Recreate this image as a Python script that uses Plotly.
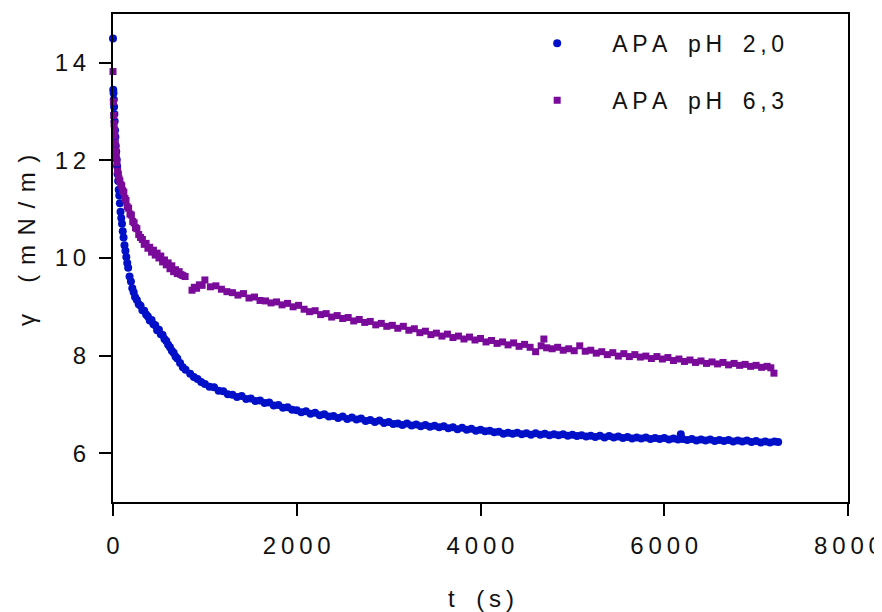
import plotly.graph_objects as go

# ---- data: APA pH 2,0 (blue circles) ----
t_ph20 = [0, 3, 6, 9, 12, 15, 18, 22, 26, 30, 35, 40, 45, 50, 56, 62, 68, 75, 82, 90,
          98, 106, 115, 125, 135, 145, 155, 165, 180, 195, 210, 225, 240, 260, 280, 300,
          320, 340, 360, 380, 400, 420, 440, 460, 480, 500, 520, 540, 560, 580, 600, 620,
          640, 660, 680, 700, 730, 760, 790, 840, 880, 920, 960,
          1000, 1050, 1100, 1150, 1200, 1250, 1300, 1350, 1400, 1450, 1500, 1550, 1600,
          1650, 1700, 1750, 1800, 1850, 1900, 1950, 2000, 2050, 2100, 2150, 2200, 2250,
          2300, 2350, 2400, 2450, 2500, 2550, 2600, 2650, 2700, 2750, 2800, 2850, 2900,
          2950, 3000, 3050, 3100, 3150, 3200, 3250, 3300, 3350, 3400, 3450, 3500, 3550,
          3600, 3650, 3700, 3750, 3800, 3850, 3900, 3950, 4000, 4050, 4100, 4150, 4200,
          4250, 4300, 4350, 4400, 4450, 4500, 4550, 4600, 4650, 4700, 4750, 4800, 4850,
          4900, 4950, 5000, 5050, 5100, 5150, 5200, 5250, 5300, 5350, 5400, 5450, 5500,
          5550, 5600, 5650, 5700, 5750, 5800, 5850, 5900, 5950, 6000, 6050, 6100, 6150,
          6180, 6200, 6250, 6300, 6350, 6400, 6450, 6500, 6550, 6600, 6650, 6700, 6750,
          6800, 6850, 6900, 6950, 7000, 7050, 7100, 7150, 7200, 7240]
g_ph20 = [14.50, 13.45, 13.38, 13.25, 13.10, 12.95, 12.80, 12.62, 12.48, 12.30, 12.18,
          12.02, 11.88, 11.72, 11.58, 11.40, 11.28, 11.12, 10.95, 10.82, 10.70, 10.55,
          10.42, 10.26, 10.15, 10.02, 9.90, 9.80, 9.62, 9.52, 9.38, 9.30, 9.20, 9.14,
          9.05, 9.02, 8.93, 8.92, 8.84, 8.80, 8.72, 8.73, 8.64, 8.62, 8.52, 8.53, 8.44,
          8.42, 8.34, 8.30, 8.22, 8.17, 8.10, 8.06, 7.98, 7.94, 7.85, 7.76, 7.71, 7.63,
          7.56, 7.52, 7.46,
          7.42, 7.36, 7.35, 7.28, 7.27, 7.21, 7.20, 7.15, 7.17, 7.11, 7.12, 7.07, 7.08,
          7.03, 7.04, 6.98, 6.99, 6.93, 6.94, 6.89, 6.88, 6.84, 6.86, 6.81, 6.83, 6.78,
          6.80, 6.75, 6.76, 6.72, 6.75, 6.70, 6.73, 6.69, 6.71, 6.66, 6.68, 6.64, 6.67,
          6.62, 6.64, 6.60, 6.61, 6.58, 6.61, 6.57, 6.59, 6.55, 6.58, 6.54, 6.56, 6.53,
          6.55, 6.51, 6.53, 6.49, 6.52, 6.48, 6.50, 6.46, 6.48, 6.45, 6.46, 6.43, 6.44,
          6.40, 6.42, 6.40, 6.42, 6.39, 6.41, 6.38, 6.41, 6.38, 6.40, 6.37, 6.39, 6.37,
          6.39, 6.36, 6.38, 6.35, 6.37, 6.34, 6.36, 6.33, 6.36, 6.32, 6.35, 6.32, 6.34,
          6.31, 6.33, 6.30, 6.32, 6.30, 6.32, 6.29, 6.31, 6.29, 6.31, 6.28, 6.30, 6.28,
          6.39, 6.29, 6.27, 6.29, 6.26, 6.28, 6.26, 6.28, 6.25, 6.27, 6.25, 6.27, 6.24,
          6.26, 6.24, 6.26, 6.23, 6.25, 6.22, 6.24, 6.22, 6.24, 6.23]

# ---- data: APA pH 6,3 (purple squares) ----
t_ph63 = [0, 4, 8, 12, 16, 20, 25, 30, 36, 43, 50, 58, 66, 75, 85, 95, 105, 118, 130,
          142, 155, 170, 185, 200, 215, 230, 245, 260, 280, 300, 320, 340, 360, 380, 400,
          420, 440, 460, 480, 500, 520, 540, 560, 580, 600, 620, 640, 660, 680, 700, 720,
          740, 760, 785, 860, 885, 910, 940, 970,
          1000, 1060, 1120, 1180, 1240, 1300, 1360, 1420, 1480, 1540, 1600, 1660, 1720,
          1780, 1840, 1900, 1960, 2020, 2080, 2140, 2200, 2260, 2320, 2380, 2440, 2500,
          2560, 2620, 2680, 2740, 2800, 2860, 2920, 2980, 3040, 3100, 3160, 3220, 3280,
          3340, 3400, 3460, 3520, 3580, 3640, 3700, 3760, 3820, 3880, 3940, 4000, 4060,
          4120, 4180, 4240, 4300, 4360, 4420, 4480, 4540, 4600, 4660, 4690, 4720, 4780,
          4840, 4900, 4960, 5020, 5080, 5140, 5200, 5260, 5320, 5380, 5440, 5500, 5560,
          5620, 5680, 5740, 5800, 5860, 5920, 5980, 6040, 6100, 6160, 6220, 6280, 6340,
          6400, 6460, 6520, 6580, 6640, 6700, 6760, 6820, 6880, 6940, 7000, 7060, 7120,
          7160, 7194]
g_ph63 = [13.82, 13.20, 12.92, 12.75, 12.62, 12.50, 12.35, 12.20, 12.08, 11.95, 11.78,
          11.72, 11.62, 11.58, 11.50, 11.48, 11.38, 11.35, 11.22, 11.18, 11.05, 11.02,
          10.90, 10.88, 10.75, 10.72, 10.62, 10.60, 10.48, 10.42, 10.38, 10.28, 10.30,
          10.20, 10.22, 10.12, 10.16, 10.06, 10.10, 10.00, 10.04, 9.92, 9.96, 9.86, 9.90,
          9.78, 9.84, 9.72, 9.76, 9.68, 9.72, 9.66, 9.64, 9.62, 9.34, 9.40, 9.38, 9.45,
          9.44,
          9.55, 9.41, 9.43, 9.36, 9.31, 9.29, 9.24, 9.27, 9.18, 9.20, 9.13, 9.12, 9.08,
          9.10, 9.04, 9.07, 9.00, 9.03, 8.95, 8.90, 8.92, 8.84, 8.86, 8.79, 8.82, 8.76,
          8.78, 8.71, 8.74, 8.68, 8.70, 8.63, 8.66, 8.60, 8.62, 8.56, 8.60, 8.52, 8.55,
          8.47, 8.50, 8.43, 8.46, 8.40, 8.44, 8.37, 8.40, 8.34, 8.38, 8.32, 8.35, 8.28,
          8.31, 8.25, 8.28, 8.22, 8.26, 8.19, 8.23, 8.17, 8.08, 8.20, 8.34, 8.16, 8.14,
          8.17, 8.11, 8.14, 8.10, 8.20, 8.09, 8.11, 8.05, 8.08, 8.02, 8.06, 7.99, 8.04,
          7.98, 8.02, 7.97, 7.99, 7.94, 7.98, 7.93, 7.96, 7.90, 7.93, 7.88, 7.91, 7.86,
          7.89, 7.84, 7.87, 7.83, 7.86, 7.81, 7.84, 7.80, 7.82, 7.78, 7.80, 7.76, 7.78,
          7.75, 7.64]

x_ticks = [0, 2000, 4000, 6000, 8000]
y_ticks = [6, 8, 10, 12, 14]
names = ["APA pH 2,0", "APA pH 6,3"]
x_title = "t (s)"
y_title = "\u03b3 (mN/m)"

TS = "\u2009"  # thin space used as letter spacing


def spaced(s, gap=TS):
    return gap.join(s.replace(" ", "\u2002"))


FONT = "Liberation Sans, Arial, sans-serif"
TXT = "#111111"
BLUE = "#0010c8"
PURPLE = "#7a0a9a"

fig = go.Figure()
fig.add_trace(go.Scatter(
    x=t_ph20, y=g_ph20, mode="markers", name=spaced(names[0]), legendgroup="a",
    marker=dict(symbol="circle", size=8, color=BLUE, line=dict(width=0)),
    cliponaxis=False))
fig.add_trace(go.Scatter(
    x=t_ph63, y=g_ph63, mode="markers", name=spaced(names[1]), legendgroup="b",
    marker=dict(symbol="square", size=7, color=PURPLE, line=dict(width=0)),
    cliponaxis=False))

axis_common = dict(showline=True, linecolor="black", linewidth=2, mirror=True,
                   ticks="outside", ticklen=12, tickwidth=2, tickcolor="black",
                   showgrid=False, zeroline=False, automargin=False,
                   tickfont=dict(family=FONT, size=24, color=TXT))

fig.update_xaxes(range=[0, 8000], tickvals=x_ticks,
                 ticktext=[spaced(str(v)) for v in x_ticks],
                 ticklabelstandoff=9, **axis_common)
fig.update_yaxes(range=[5, 15], tickvals=y_ticks,
                 ticktext=[spaced(str(v)) for v in y_ticks],
                 ticklabelstandoff=8, **axis_common)

fig.add_annotation(text=spaced(x_title), xref="paper", x=0.5, yref="paper", y=-0.197,
                   yanchor="middle", showarrow=False,
                   font=dict(family=FONT, size=24, color=TXT))
fig.add_annotation(text=spaced(y_title, TS + TS), xref="paper", x=-0.117, yref="paper",
                   y=0.535, textangle=-90, xanchor="center", yanchor="middle",
                   showarrow=False, font=dict(family=FONT, size=24, color=TXT))

# the page body adds an 8 px offset, so the figure is sized to fill the window after it
fig.update_layout(
    width=874, height=604,
    margin=dict(l=105, r=34, t=6, b=110),
    paper_bgcolor="white", plot_bgcolor="white",
    showlegend=True,
    legend=dict(x=0.5295, y=0.984, xanchor="left", yanchor="top",
                bgcolor="rgba(0,0,0,0)", itemwidth=100, tracegroupgap=24,
                traceorder="grouped",
                font=dict(family=FONT, size=23, color=TXT)),
)

fig.write_html("out.html")
